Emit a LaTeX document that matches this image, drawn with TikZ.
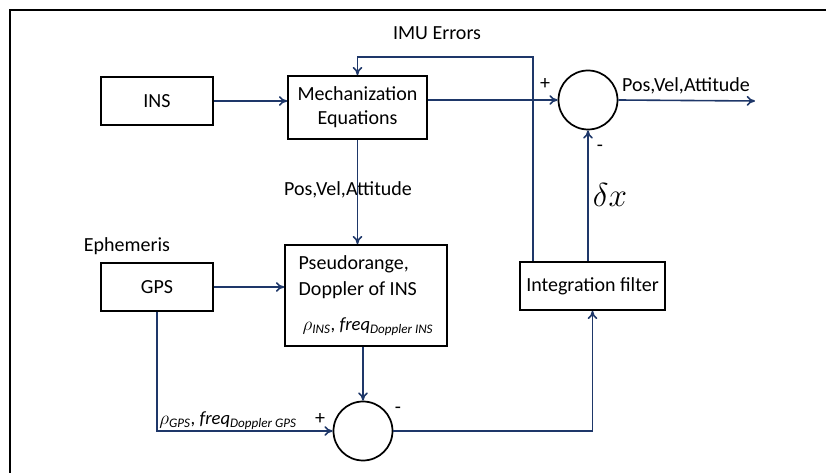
\documentclass[tikz,border=0pt]{standalone}
\usepackage{fontspec}
\setmainfont{Carlito}
\usetikzlibrary{arrows.meta,positioning,calc}
\definecolor{linkblue}{RGB}{30,55,105}

\begin{document}
\begin{tikzpicture}[
  x=0.75pt, y=-0.75pt,
  font=\fontsize{15}{18}\selectfont,
  block/.style={rectangle, draw=black, line width=1.3pt, inner sep=2pt, align=center},
  sumnode/.style={circle, draw=black, line width=1.3pt, minimum size=44.25pt, inner sep=0pt},
  arr/.style={-{To[length=2.2mm,width=2.6mm]}, draw=linkblue, line width=1.2pt},
  lbl/.style={inner sep=1pt},
  rholbl/.style={inner sep=1pt, font=\fontsize{14}{17}\selectfont}]
  \useasboundingbox (0,0) rectangle (826,473);
  \draw[line width=1.8pt] (10,473) -- (10,10) -- (826,10);
  % blocks
  \node[block, minimum width=84pt, minimum height=36pt] (ins) at (157,101) {INS};
  \node[block, minimum width=104.25pt, minimum height=47.25pt] (mech) at (357.5,107.5) {Mechanization\\Equations};
  \node[block, minimum width=84pt, minimum height=36pt] (gps) at (157,287) {GPS};
  \node[block, minimum width=121.5pt, minimum height=75.75pt, align=left] (pseudo) at (366,295.5)
    {Pseudorange,\\[2pt]Doppler of INS\\[8pt]\hspace*{3pt}{\fontsize{14}{17}\selectfont$\rho$\textsubscript{\textit{INS}}, \textit{freq}\textsubscript{\textit{Doppler INS}}}};
  \node[block, minimum width=108.75pt, minimum height=36pt] (filt) at (592.5,286) {Integration filter};
  \node[sumnode] (sumtop) at (588,100) {};
  \node[sumnode] (sumbot) at (363,431) {};
  \coordinate (out) at (755,101);
  \coordinate (fb) at ($(filt.north west)+(14,0)$);
  % labels
  \node[lbl] (imu) at (437,33) {IMU Errors};
  \node[lbl] (pva) at (348,190) {Pos,Vel,Attitude};
  \node[lbl] (pvaout) at (686,86) {Pos,Vel,Attitude};
  \node[lbl] (eph) at (127,246) {Ephemeris};
  \node[rholbl] (rhogps) at (228,421) {$\rho$\textsubscript{\textit{GPS}}, \textit{freq}\textsubscript{\textit{Doppler GPS}}};
  \node[lbl] (dx) at (610,195) {\fontsize{23}{26}\selectfont$\delta x$};
  \node[lbl] (ptop) at (545,84) {+};
  \node[lbl] (mtop) at (600,148) {-};
  \node[lbl] (pbot) at (320,419) {+};
  \node[lbl] (mbot) at (398,410) {-};
  % connectors
  \draw[arr] (ins.east) -- (ins.east -| mech.west);
  \draw[arr] (sumtop.west -| mech.east) -- (sumtop.west);
  \draw[arr] (sumtop.east) -- (out);
  \draw[arr] (fb) |- (437,57) -| (mech.north);
  \draw[arr] (mech.south) -- (mech.south |- pseudo.north);
  \draw[arr] (gps.east) -- (gps.east -| pseudo.west);
  \draw[arr] (gps.south) |- (sumbot.west);
  \draw[arr] (sumbot.north |- pseudo.south) -- (sumbot.north);
  \draw[arr] (sumbot.east) -| (filt.south);
  \draw[arr] (filt.north -| sumtop) -- (sumtop.south);
\end{tikzpicture}
\end{document}
